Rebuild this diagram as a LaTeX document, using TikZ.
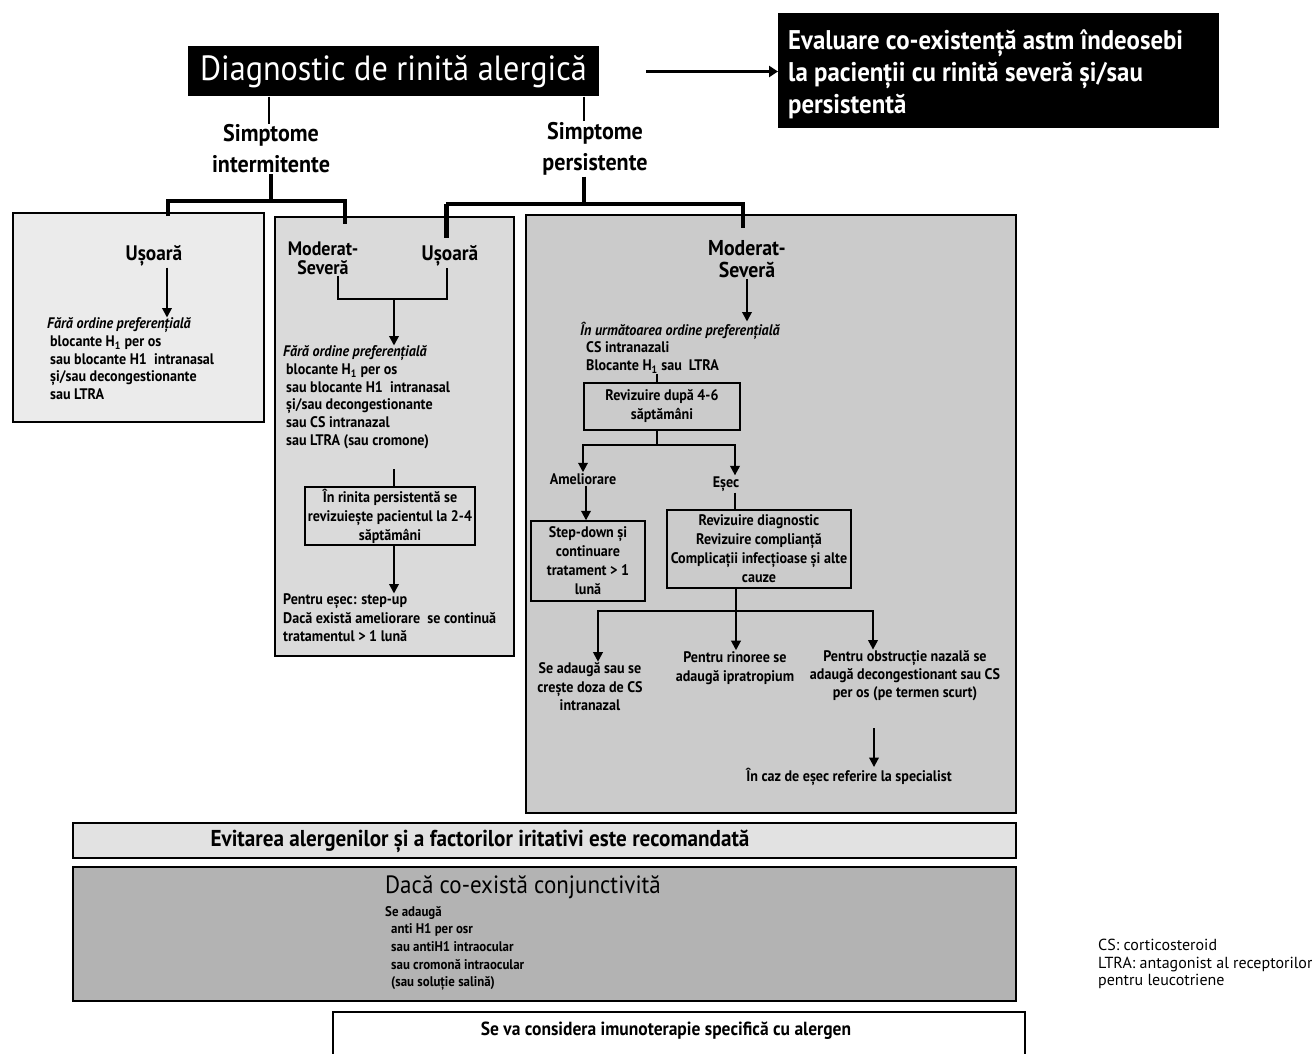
\documentclass[tikz,border=0pt]{standalone}
\usepackage{fontspec}
\setmainfont{PT Sans}[FakeStretch=0.92]
\newfontfamily\legfont{PT Sans}
\usetikzlibrary{arrows.meta}
\definecolor{grayA}{HTML}{EBEBEB}
\definecolor{grayB}{HTML}{DADADA}
\definecolor{grayC}{HTML}{CBCBCB}
\definecolor{grayD}{HTML}{E2E2E2}
\definecolor{grayE}{HTML}{B3B3B3}
\tikzset{
  panel/.style={draw=black,line width=1.6pt,anchor=north west,inner sep=0pt},
  hd/.style={font=\bfseries\fontsize{21}{19}\selectfont,align=center,inner sep=1pt},
  tx/.style={font=\bfseries\fontsize{15.3}{17.7}\selectfont,align=left,inner sep=0pt,anchor=north west},
  ctx/.style={font=\bfseries\fontsize{15.3}{19}\selectfont,align=center,inner sep=1pt},
  rbox/.style={draw=black,line width=1.4pt,font=\bfseries\fontsize{15.3}{19}\selectfont,align=center,inner sep=0pt},
  ln/.style={line width=2pt},
  brk/.style={line width=3.5pt},
  arr/.style={line width=2pt,-{Triangle[width=9.5pt,length=9.5pt]}}
}
\begin{document}
\begin{tikzpicture}[x=1pt,y=-1pt]
\useasboundingbox (0,0) rectangle (1312,1054);

\node[fill=black,text=white,font=\fontsize{35}{40}\selectfont,minimum width=411,minimum height=50,inner sep=0pt] (diag) at (393.5,71.5) {Diagnostic de rinită alergică};
\node[fill=black,anchor=north west,minimum width=441,minimum height=115,inner sep=0pt] (asthma) at (778,13) {};
\node[text=white,font=\bfseries\fontsize{27}{32}\selectfont,align=left,anchor=north west,inner sep=0pt] (asthmatx) at (788,30) {Evaluare co-existență astm îndeosebi\\la pacienții cu rinită severă și/sau\\persistentă};
\draw[line width=3pt,-{Triangle[width=11pt,length=9pt]}] ([xshift=47pt]diag.east) -- (asthma.west |- diag.east);

\node[hd,font=\bfseries\fontsize{24}{31}\selectfont] (sint) at (271,149) {Simptome\\intermitente};
\node[hd,font=\bfseries\fontsize{24}{31}\selectfont] (spers) at (595,149) {Simptome\\persistente};
\draw[ln,line width=2.5pt] ([xshift=-2pt]sint.north |- diag.south) -- ([xshift=-2pt]sint.north);
\draw[ln,line width=2.5pt] ([xshift=-11pt]spers.north |- diag.south) -- ([xshift=-11pt]spers.north);

\node[panel,fill=grayA,minimum width=251,minimum height=209] (pint) at (12,212) {};
\node[panel,fill=grayB,minimum width=239,minimum height=439] (pmid) at (274,216) {};
\node[panel,fill=grayC,minimum width=490,minimum height=598] (pper) at (525,214) {};

\coordinate (ibar) at (271,201);
\coordinate (iL) at (168,216);
\coordinate (iR) at (345,224);
\draw[brk] (sint.south) -- (ibar);
\draw[brk] (iL) -- (iL |- ibar) -- (iR |- ibar) -- (iR);
\coordinate (pbar) at (584,204);
\coordinate (pL) at (446,238);
\coordinate (pR) at (743,228);
\draw[brk] ([xshift=-11pt]spers.south) -- (pbar);
\draw[brk] (pL |- pbar) -- (pR |- pbar) -- (pR);
\draw[line width=5pt] (pL |- pbar) -- (pL);

\node[hd] (usI) at (154,256) {Ușoară};
\node[tx] (txI) at (47,317.5) {{\itshape Fără ordine preferențială}\\
\hspace*{3pt}blocante H\textsubscript{1} per os\\
\hspace*{3pt}sau blocante H1 \ intranasal\\
\hspace*{3pt}și/sau decongestionante\\
\hspace*{3pt}sau LTRA};
\draw[arr] ([xshift=13pt]usI.south) -- ([xshift=13pt]usI.south |- txI.north);

\node[hd,font=\bfseries\fontsize{19.5}{19}\selectfont] (msevM) at (323,258) {Moderat-\\Severă};
\node[hd] (usM) at (450,256) {Ușoară};
\coordinate (jm) at (394,299);
\draw[ln,line width=2.5pt] ([xshift=15pt]msevM.south) |- (jm) -| ([xshift=-3pt]usM.south);
\node[tx] (txM) at (283,345.5) {{\itshape Fără ordine preferențială}\\
\hspace*{3pt}blocante H\textsubscript{1} per os\\
\hspace*{3pt}sau blocante H1 \ intranasal\\
\hspace*{3pt}și/sau decongestionante\\
\hspace*{3pt}sau CS intranazal\\
\hspace*{3pt}sau LTRA (sau cromone)};
\draw[arr] (jm) -- (jm |- txM.north);
\node[rbox,minimum width=170,minimum height=58] (rev24) at (390,516) {În rinita persistentă se\\revizuiește pacientul la 2-4\\săptămâni};
\draw[ln] ([xshift=4pt]rev24.north) -- ++(0,-17);
\node[tx,font=\bfseries\fontsize{15.3}{18.5}\selectfont] (txM2) at (283,593.5) {Pentru eșec: step-up\\
Dacă există ameliorare \ se continuă\\
tratamentul > 1 lună};
\draw[arr] ([xshift=4pt]rev24.south) -- ([xshift=4pt]rev24.south |- txM2.north);

\node[hd,font=\bfseries\fontsize{21.5}{22}\selectfont] (msev) at (747,259) {Moderat-\\Severă};
\node[tx] (txP) at (580,321.5) {{\itshape În următoarea ordine preferențială}\\
\hspace*{6pt}CS intranazali\\
\hspace*{6pt}Blocante H\textsubscript{1} sau \ LTRA};
\draw[arr] (msev.south) -- (msev.south |- txP.north);
\node[rbox,minimum width=156,minimum height=47] (rev46) at (662,406.5) {Revizuire după 4-6\\săptămâni};
\draw[ln] ([xshift=-5pt]rev46.north) -- ++(0,-8);
\node[ctx] (amel) at (583,479) {Ameliorare};
\node[ctx] (esec) at (726,484) {Eșec};
\coordinate (split46) at (657,445);
\draw[ln] ([xshift=-5pt]rev46.south) -- (split46);
\draw[arr] (split46) -| (amel.north);
\draw[arr] (split46) -| ([xshift=9pt]esec.north);
\node[rbox,minimum width=114,minimum height=80] (stepd) at (588,561) {Step-down și\\continuare\\tratament > 1\\lună};
\draw[arr] ([xshift=3pt]amel.south) -- ([xshift=3pt]amel.south |- stepd.north);
\node[rbox,minimum width=184,minimum height=78] (revdiag) at (759,549) {Revizuire diagnostic\\Revizuire complianță\\Complicații infecțioase și alte\\cauze};
\draw[ln] ([xshift=9pt]esec.south) -- ([xshift=9pt]esec.south |- revdiag.north);
\coordinate (split3) at (736,611);
\draw[ln] (revdiag.south -| split3) -- (split3);
\node[ctx,font=\bfseries\fontsize{15.3}{18.5}\selectfont] (addcs) at (590,687) {Se adaugă sau se\\crește doza de CS\\intranazal};
\node[ctx] (rino) at (735,668) {Pentru rinoree se\\adaugă ipratropium};
\node[ctx,font=\bfseries\fontsize{15.3}{18}\selectfont] (obst) at (905,676) {Pentru obstrucție nazală se\\adaugă decongestionant sau CS\\per os (pe termen scurt)};
\draw[arr] (split3) -| ([xshift=8pt]addcs.north);
\draw[arr] (split3) -- (rino.north -| split3);
\draw[arr] (split3) -| ([xshift=-32pt]obst.north);
\node[ctx] (spec) at (849,777) {În caz de eșec referire la specialist};
\draw[arr] ([xshift=-31pt,yshift=-26pt]obst.south) -- ([xshift=-31pt]obst.south |- spec.north);

\node[panel,fill=grayD,minimum width=943,minimum height=35] (pavoid) at (72,822) {};
\node[font=\bfseries\fontsize{23}{24}\selectfont,inner sep=0pt] (avoid) at (480,841) {Evitarea alergenilor și a factorilor iritativi este recomandată};
\node[panel,fill=grayE,minimum width=943,minimum height=134] (pconj) at (72,866) {};
\node[font=\fontsize{25}{26}\selectfont,inner sep=0pt,anchor=west] (conj) at (385,887) {Dacă co-există conjunctivită};
\node[tx,font=\bfseries\fontsize{14}{17.6}\selectfont] (txC) at (385,906) {Se adaugă\\
\hspace*{6pt}anti H1 per osr\\
\hspace*{6pt}sau antiH1 intraocular\\
\hspace*{6pt}sau cromonă intraocular\\
\hspace*{6pt}(sau soluție salină)};
\draw[line width=1.6pt] (333,1060) -- (333,1012) -- (1025,1012) -- (1025,1060);
\node[font=\bfseries\fontsize{19}{20}\selectfont,inner sep=0pt] (imuno) at (666,1031) {Se va considera imunoterapie specifică cu alergen};

\node[font=\legfont\fontsize{16}{17.5}\selectfont,align=left,anchor=north west,inner sep=0pt] (legend) at (1098,939) {CS: corticosteroid\\LTRA: antagonist al receptorilor\\pentru leucotriene};
\end{tikzpicture}
\end{document}
